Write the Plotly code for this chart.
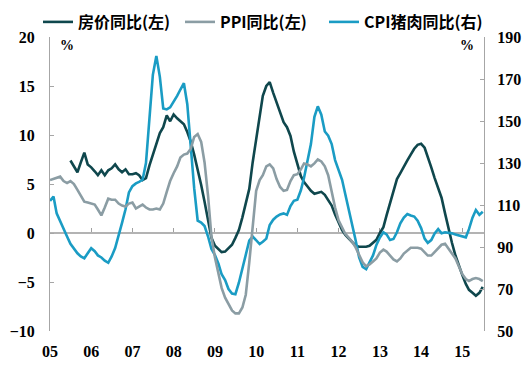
import plotly.graph_objects as go
import pandas as pd

# Monthly data, Jan 2005 - Jul 2015
months = pd.date_range("2005-01-01", "2015-07-01", freq="MS")

house_yoy = [None] * 6 + [
    7.4, 6.8, 6.2, 7.2, 8.2, 7.0,                                  # 2005 H2
    6.7, 6.3, 5.9, 6.4, 5.9, 6.4, 6.6, 7.0, 6.5, 6.2, 6.5, 6.0,     # 2006
    6.0, 6.1, 5.9, 5.4, 5.6, 6.9, 8.0, 9.0, 10.2, 10.8, 12.0, 11.4, # 2007
    12.1, 11.7, 11.4, 11.1, 10.3, 9.3, 8.0, 6.5, 4.9, 3.2, 1.2, -0.5,  # 2008
    -1.3, -1.7, -1.95, -1.9, -1.6, -1.2, -0.5, 0.3, 1.6, 3.0, 4.5, 7.2,  # 2009
    9.6, 12.3, 14.0, 15.0, 15.4, 14.3, 13.3, 12.1, 11.3, 10.8, 9.9, 8.3,  # 2010
    6.9, 5.8, 5.2, 4.7, 4.3, 4.0, 4.1, 4.2, 3.9, 3.4, 2.8, 1.9,     # 2011
    1.1, 0.3, -0.2, -0.6, -1.0, -1.3, -1.4, -1.4, -1.4, -1.3, -1.0, -0.7,  # 2012
    0.0, 0.6, 1.8, 3.0, 4.3, 5.5, 6.1, 6.8, 7.4, 8.0, 8.6, 9.0,     # 2013
    9.1, 8.7, 7.8, 6.7, 5.6, 4.6, 3.6, 2.0, 0.3, -1.0, -2.3, -3.4,  # 2014
    -4.3, -5.2, -5.8, -6.1, -6.4, -6.1, -5.5,                       # 2015
]

ppi_yoy = [
    5.4, 5.5, 5.6, 5.75, 5.3, 5.1, 5.3, 5.0, 4.4, 3.8, 3.2, 3.1,
    3.0, 2.9, 2.4, 1.8, 2.6, 3.5, 3.4, 3.4, 3.0, 2.8, 2.7, 3.0,
    3.1, 2.5, 2.7, 2.9, 2.6, 2.4, 2.4, 2.5, 2.4, 3.0, 4.2, 5.3,
    6.1, 6.8, 7.7, 8.0, 8.1, 8.6, 9.8, 10.1, 9.3, 7.2, 3.8, -0.4,
    -2.5, -4.2, -5.6, -6.6, -7.3, -7.9, -8.2, -8.2, -7.6, -6.3, -3.0, 0.5,
    4.3, 5.4, 5.9, 6.8, 7.0, 6.6, 5.5, 4.7, 4.3, 4.4, 5.3, 5.9,
    6.0, 6.5, 7.1, 7.0, 6.8, 7.1, 7.5, 7.3, 6.8, 5.9, 4.2, 2.6,
    1.3, 0.5, -0.1, -0.5, -0.9, -1.5, -2.3, -3.0, -3.4, -3.2, -2.9, -2.6,
    -2.0, -1.7, -1.9, -2.3, -2.7, -2.9, -2.6, -2.1, -1.8, -1.5, -1.5, -1.5,
    -1.6, -2.0, -2.3, -2.3, -1.9, -1.5, -1.2, -1.1, -1.6, -2.1, -2.6, -3.4,
    -4.2, -4.7, -4.9, -4.7, -4.6, -4.7, -4.9,
]

pork_cpi = [
    112, 114, 106, 102, 98.5, 95, 91.5, 89, 87, 85.5, 84.6, 87,
    89.4, 88, 86, 85, 83.5, 82.5, 85.5, 89.5, 95, 101.5, 108, 116,
    119, 120.3, 121, 122, 130, 153, 172, 181, 171, 156, 155.5, 156.5,
    159, 162, 165, 168, 158, 137, 118, 102.5, 101.6, 100, 95, 89,
    86.2, 82, 77, 74.3, 70, 67.8, 67.5, 73, 80, 87, 93, 95,
    93.3, 91.4, 92.5, 94, 100.5, 103, 104.5, 105.5, 106, 105.3, 109.5, 112,
    112.5, 117, 123, 131, 139, 152, 157, 153, 145, 143, 139, 131.4,
    127, 122, 115, 108, 101.3, 93, 85, 80.5, 79.5, 82.5, 86, 91,
    94.5, 97, 96, 93.3, 93.8, 97, 101.3, 104, 105.7, 105, 104.5, 102.5,
    99, 94, 92, 93.3, 96.5, 98.5, 96.5, 97, 96.8, 96.5, 96, 95.5,
    95, 94.6, 98.5, 104, 107.6, 105.3, 106.8,
]

year_ticks = pd.date_range("2005-01-01", "2015-01-01", freq="YS")
year_labels = ["05", "06", "07", "08", "09", "10", "11", "12", "13", "14", "15"]

names = ["房价同比(左)", "PPI同比(左)", "CPI猪肉同比(右)"]
colors = ["#0f474d", "#8b9da4", "#1a9cc4"]

num_font = dict(family="Liberation Serif", size=16, color="black", weight="bold")
leg_font = dict(family="Noto Sans CJK SC", size=16, color="black", weight="bold")

fig = go.Figure()
fig.add_trace(go.Scatter(x=months, y=house_yoy, name=names[0], mode="lines",
                         line=dict(color=colors[0], width=2.6), connectgaps=False,
                         legend="legend", showlegend=True))
fig.add_trace(go.Scatter(x=months, y=ppi_yoy, name=names[1], mode="lines",
                         line=dict(color=colors[1], width=2.6), xaxis="x2",
                         legend="legend2", showlegend=True))
fig.add_trace(go.Scatter(x=months, y=pork_cpi, name=names[2], mode="lines",
                         line=dict(color=colors[2], width=2.6), yaxis="y2",
                         legend="legend3", showlegend=True))

x_range = ["2005-01-01", "2015-07-12"]


def legend_at(px):
    return dict(orientation="h", xref="container", yref="container",
                x=px / 530, y=1 - 5 / 387, xanchor="left", yanchor="top",
                font=leg_font, bgcolor="rgba(0,0,0,0)", itemwidth=30)


fig.update_layout(
    width=530, height=387,
    showlegend=True,
    margin=dict(l=50, r=46, t=37, b=56, autoexpand=False),
    paper_bgcolor="white", plot_bgcolor="white",
    xaxis=dict(range=x_range, tickvals=year_ticks, ticktext=year_labels,
               showline=False, showgrid=False, zeroline=False, ticks="",
               tickfont=num_font, ticklabelstandoff=9),
    xaxis2=dict(overlaying="x", matches="x", anchor="free", position=1/3,
                tickvals=year_ticks, showticklabels=False,
                showline=True, linecolor="#b3b3b3", linewidth=2,
                ticks="inside", ticklen=4, tickcolor="#a0a0a0",
                showgrid=False, zeroline=False, layer="below traces"),
    yaxis=dict(range=[-10, 20], dtick=5, showgrid=False, zeroline=False,
               showline=True, linecolor="#a6a6a6", linewidth=1,
               ticks="inside", ticklen=4, tickcolor="#a6a6a6",
               tickfont=num_font, ticklabelstandoff=11),
    yaxis2=dict(range=[50, 190], tick0=50, dtick=20, overlaying="y", side="right",
                showgrid=False, zeroline=False,
                showline=True, linecolor="#a6a6a6", linewidth=1,
                ticks="inside", ticklen=4, tickcolor="#a6a6a6",
                tickfont=num_font, ticklabelstandoff=9),
    legend=legend_at(38),
    legend2=legend_at(180),
    legend3=legend_at(324),
    annotations=[
        dict(text="%", xref="paper", yref="paper", x=(67-50)/434, y=1-(45-37)/294,
             xanchor="center", yanchor="middle", showarrow=False,
             font=dict(family="Liberation Serif", size=14, color="black", weight="bold")),
        dict(text="%", xref="paper", yref="paper", x=(467-50)/434, y=1-(45-37)/294,
             xanchor="center", yanchor="middle", showarrow=False,
             font=dict(family="Liberation Serif", size=14, color="black", weight="bold")),
    ],
)

fig.write_html("out.html", config={"displayModeBar": False},
               post_script="document.body.style.margin='0';")
